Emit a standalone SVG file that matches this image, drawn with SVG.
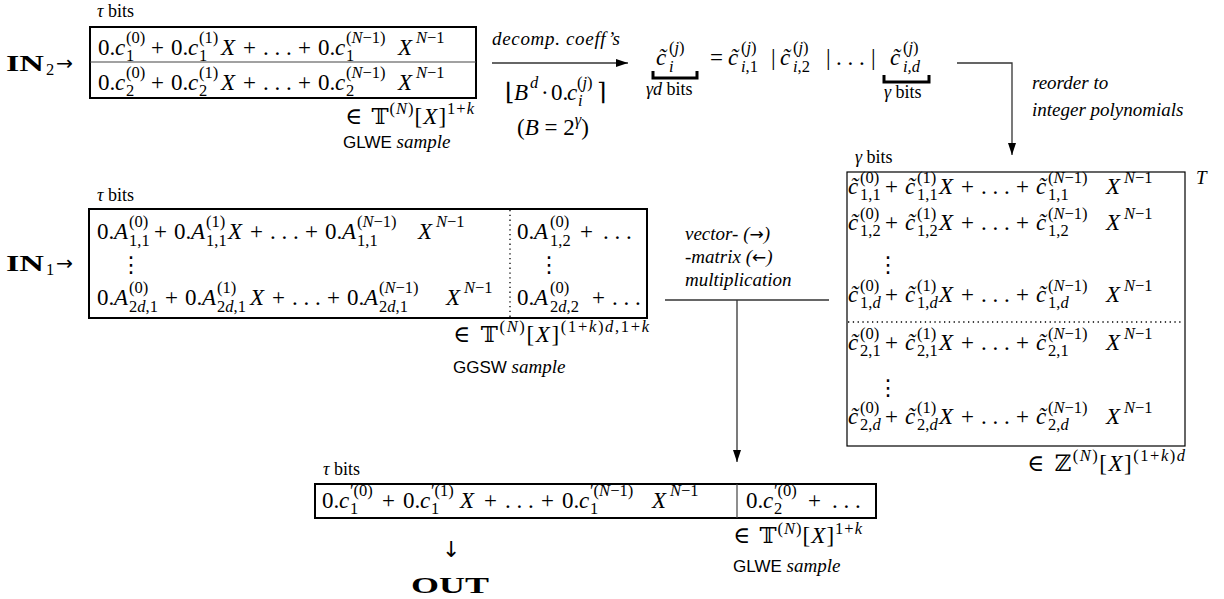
<svg xmlns="http://www.w3.org/2000/svg" width="1224" height="599" viewBox="0 0 1224 599">
<defs>
<style>
.t{font-family:"Liberation Serif","DejaVu Serif",serif;fill:#000}
.m{font-size:23px}
.s{font-size:16.5px}
.i{font-style:italic}
.l{font-size:19px;font-style:italic}
.sm{font-size:18px}
.sf{font-family:"Liberation Sans","DejaVu Sans",sans-serif;font-style:normal;font-size:17px}
.sym{font-family:"DejaVu Serif",serif}
.ar{font-family:"DejaVu Sans",sans-serif;font-style:normal}
.bf{font-weight:bold;font-size:24px}
.vd{font-family:"DejaVu Sans",sans-serif;font-size:22px;text-anchor:middle}
.box{fill:none;stroke:#000;stroke-width:2}
.thin{fill:none;stroke:#000;stroke-width:1.2}
.div{stroke:#444;stroke-width:1.2}
.dot{stroke:#000;stroke-width:1.3;stroke-dasharray:1.3 3.5}
.conn{fill:none;stroke:#333;stroke-width:1.3}
.brace{fill:none;stroke:#000;stroke-width:3}
</style>
<marker id="ah" viewBox="0 0 12 8" refX="12" refY="4" markerWidth="12" markerHeight="8" markerUnits="userSpaceOnUse" orient="auto"><path d="M0,0 L12,4 L0,8 z" fill="#000"/></marker>
</defs>

<g id="in2">
<text class="t bf" x="6" y="71" textLength="38" lengthAdjust="spacingAndGlyphs">IN</text>
<text class="t s" x="46" y="75">2</text>
<text class="t ar" x="56" y="70" font-size="20" textLength="17" lengthAdjust="spacingAndGlyphs">→</text>
<text class="t sm" x="97" y="17"><tspan class="i">τ</tspan> bits</text>
<rect class="box" x="90" y="27" width="386" height="71"/>
<line class="div" x1="90" y1="62" x2="476" y2="62"/>
<text class="t m"><tspan x="98" y="55">0.</tspan><tspan class="i" x="115" y="55">c</tspan><tspan class="s" x="126" y="43">(0)</tspan><tspan class="s" x="126" y="61">1</tspan><tspan x="151" y="55">+</tspan><tspan x="171" y="55">0.</tspan><tspan class="i" x="188" y="55">c</tspan><tspan class="s" x="199" y="43">(1)</tspan><tspan class="s" x="199" y="61">1</tspan><tspan class="i" x="221" y="55">X</tspan><tspan x="243" y="55">+</tspan><tspan x="263" y="55">. . .</tspan><tspan x="298" y="55">+</tspan><tspan x="318" y="55">0.</tspan><tspan class="i" x="335" y="55">c</tspan><tspan class="s" x="346" y="43">(<tspan class="i">N</tspan>−1)</tspan><tspan class="s" x="346" y="61">1</tspan><tspan class="i" x="398" y="55">X</tspan><tspan class="s" x="416" y="43"><tspan class="i">N</tspan>−1</tspan></text>
<text class="t m"><tspan x="98" y="90">0.</tspan><tspan class="i" x="115" y="90">c</tspan><tspan class="s" x="126" y="78">(0)</tspan><tspan class="s" x="126" y="96">2</tspan><tspan x="151" y="90">+</tspan><tspan x="171" y="90">0.</tspan><tspan class="i" x="188" y="90">c</tspan><tspan class="s" x="199" y="78">(1)</tspan><tspan class="s" x="199" y="96">2</tspan><tspan class="i" x="221" y="90">X</tspan><tspan x="243" y="90">+</tspan><tspan x="263" y="90">. . .</tspan><tspan x="298" y="90">+</tspan><tspan x="318" y="90">0.</tspan><tspan class="i" x="335" y="90">c</tspan><tspan class="s" x="346" y="78">(<tspan class="i">N</tspan>−1)</tspan><tspan class="s" x="346" y="96">2</tspan><tspan class="i" x="398" y="90">X</tspan><tspan class="s" x="416" y="78"><tspan class="i">N</tspan>−1</tspan></text>
<text class="t m" x="345" y="124" textLength="129" lengthAdjust="spacing"><tspan class="sym">∈ 𝕋</tspan><tspan class="s" dy="-10">(<tspan class="i">N</tspan>)</tspan><tspan dy="10">[<tspan class="i">X</tspan>]</tspan><tspan class="s" dy="-10">1+<tspan class="i">k</tspan></tspan></text>
<text class="t" x="343" y="148"><tspan class="sf">GLWE</tspan><tspan class="l"> sample</tspan></text>
</g>

<g id="decomp">
<text class="t l" x="492" y="45" textLength="128">decomp. coeff’s</text>
<text class="t m"><tspan class="sym" x="505" y="100" font-size="24">⌊</tspan><tspan class="i" x="514" y="100">B</tspan><tspan class="s i" x="530" y="88">d</tspan><tspan x="541" y="100">·</tspan><tspan x="551" y="100">0.</tspan><tspan class="i" x="567" y="100">c</tspan><tspan class="s" x="577" y="88">(<tspan class="i">j</tspan>)</tspan><tspan class="s i" x="578" y="106">i</tspan><tspan class="sym" x="597" y="100" font-size="24">⌉</tspan></text>
<text class="t m" x="517" y="135">(<tspan class="i">B</tspan> = 2<tspan class="s i" dy="-10">γ</tspan><tspan dy="10">)</tspan></text>
</g>

<g id="ctilde">
<text class="t m"><tspan class="i" x="656" y="65">c̃</tspan><tspan class="s" x="669" y="53">(<tspan class="i">j</tspan>)</tspan><tspan class="s i" x="669" y="72">i</tspan><tspan x="710" y="65">=</tspan><tspan class="i" x="728" y="65">c̃</tspan><tspan class="s" x="741" y="53">(<tspan class="i">j</tspan>)</tspan><tspan class="s" x="741" y="72"><tspan class="i">i</tspan>,1</tspan><tspan x="771" y="65">|</tspan><tspan class="i" x="780" y="65">c̃</tspan><tspan class="s" x="793" y="53">(<tspan class="i">j</tspan>)</tspan><tspan class="s" x="793" y="72"><tspan class="i">i</tspan>,2</tspan><tspan x="826" y="65">|</tspan><tspan x="836" y="65">. . .</tspan><tspan x="871" y="65">|</tspan><tspan class="i" x="890" y="65">c̃</tspan><tspan class="s" x="903" y="53">(<tspan class="i">j</tspan>)</tspan><tspan class="s i" x="903" y="72">i,d</tspan></text>
<path class="brace" d="M653,71 V78 H697 V71"/>
<text class="t sm" x="646" y="95"><tspan class="i">γd</tspan> bits</text>
<path class="brace" d="M884,75 V82 H929 V75"/>
<text class="t sm" x="884" y="98"><tspan class="i">γ</tspan> bits</text>
<text class="t l" x="1032" y="89">reorder to</text>
<text class="t l" x="1032" y="116">integer polynomials</text>
</g>

<g id="in1">
<text class="t bf" x="6" y="271" textLength="38" lengthAdjust="spacingAndGlyphs">IN</text>
<text class="t s" x="46" y="275">1</text>
<text class="t ar" x="56" y="270" font-size="20" textLength="17" lengthAdjust="spacingAndGlyphs">→</text>
<text class="t sm" x="97" y="201"><tspan class="i">τ</tspan> bits</text>
<rect class="box" x="89" y="209" width="558" height="109"/>
<line class="dot" x1="510" y1="210" x2="510" y2="317"/>
<text class="t m"><tspan x="97" y="239">0.</tspan><tspan class="i" x="114" y="239">A</tspan><tspan class="s" x="129" y="227">(0)</tspan><tspan class="s" x="129" y="246">1,1</tspan><tspan x="154" y="239">+</tspan><tspan x="174" y="239">0.</tspan><tspan class="i" x="191" y="239">A</tspan><tspan class="s" x="206" y="227">(1)</tspan><tspan class="s" x="206" y="246">1,1</tspan><tspan class="i" x="228" y="239">X</tspan><tspan x="250" y="239">+</tspan><tspan x="270" y="239">. . .</tspan><tspan x="305" y="239">+</tspan><tspan x="325" y="239">0.</tspan><tspan class="i" x="342" y="239">A</tspan><tspan class="s" x="357" y="227">(<tspan class="i">N</tspan>−1)</tspan><tspan class="s" x="357" y="246">1,1</tspan><tspan class="i" x="418" y="239">X</tspan><tspan class="s" x="436" y="227"><tspan class="i">N</tspan>−1</tspan><tspan x="517" y="239">0.</tspan><tspan class="i" x="534" y="239">A</tspan><tspan class="s" x="550" y="227">(0)</tspan><tspan class="s" x="550" y="246">1,2</tspan><tspan x="580" y="239">+</tspan><tspan x="603" y="239">. . .</tspan></text>
<text class="t vd" x="131" y="272">⋮</text>
<text class="t vd" x="549" y="272">⋮</text>
<text class="t m"><tspan x="97" y="305">0.</tspan><tspan class="i" x="114" y="305">A</tspan><tspan class="s" x="129" y="293">(0)</tspan><tspan class="s" x="129" y="312">2<tspan class="i">d</tspan>,1</tspan><tspan x="165" y="305">+</tspan><tspan x="185" y="305">0.</tspan><tspan class="i" x="202" y="305">A</tspan><tspan class="s" x="217" y="293">(1)</tspan><tspan class="s" x="217" y="312">2<tspan class="i">d</tspan>,1</tspan><tspan class="i" x="250" y="305">X</tspan><tspan x="272" y="305">+</tspan><tspan x="292" y="305">. . .</tspan><tspan x="327" y="305">+</tspan><tspan x="347" y="305">0.</tspan><tspan class="i" x="364" y="305">A</tspan><tspan class="s" x="379" y="293">(<tspan class="i">N</tspan>−1)</tspan><tspan class="s" x="379" y="312">2<tspan class="i">d</tspan>,1</tspan><tspan class="i" x="446" y="305">X</tspan><tspan class="s" x="464" y="293"><tspan class="i">N</tspan>−1</tspan><tspan x="517" y="305">0.</tspan><tspan class="i" x="534" y="305">A</tspan><tspan class="s" x="550" y="293">(0)</tspan><tspan class="s" x="550" y="312">2<tspan class="i">d</tspan>,2</tspan><tspan x="592" y="305">+</tspan><tspan x="612" y="305">. . .</tspan></text>
<text class="t m" x="453" y="342" textLength="196" lengthAdjust="spacing"><tspan class="sym">∈ 𝕋</tspan><tspan class="s" dy="-10">(<tspan class="i">N</tspan>)</tspan><tspan dy="10">[<tspan class="i">X</tspan>]</tspan><tspan class="s" dy="-10">(1+<tspan class="i">k</tspan>)<tspan class="i">d</tspan>,1+<tspan class="i">k</tspan></tspan></text>
<text class="t" x="453" y="373"><tspan class="sf">GGSW</tspan><tspan class="l"> sample</tspan></text>
</g>

<g id="mult">
<text class="t l" x="685" y="240">vector- (<tspan class="ar" font-size="17">→</tspan>)</text>
<text class="t l" x="685" y="263">-matrix (<tspan class="ar" font-size="17">←</tspan>)</text>
<text class="t l" x="685" y="286">multiplication</text>
</g>

<g id="rbox">
<text class="t sm" x="855" y="163"><tspan class="i">γ</tspan> bits</text>
<rect class="thin" x="847" y="172" width="338" height="274"/>
<line class="dot" x1="848" y1="322" x2="1184" y2="322"/>
<text class="t l" x="1196" y="184">T</text>
<text class="t m"><tspan class="i" x="848" y="194">c̃</tspan><tspan class="s" x="860" y="183">(0)</tspan><tspan class="s" x="860" y="200">1,1</tspan><tspan x="885" y="194">+</tspan><tspan class="i" x="905" y="194">c̃</tspan><tspan class="s" x="917" y="183">(1)</tspan><tspan class="s" x="917" y="200">1,1</tspan><tspan class="i" x="939" y="194">X</tspan><tspan x="961" y="194">+</tspan><tspan x="981" y="194">. . .</tspan><tspan x="1016" y="194">+</tspan><tspan class="i" x="1036" y="194">c̃</tspan><tspan class="s" x="1048" y="183">(<tspan class="i">N</tspan>−1)</tspan><tspan class="s" x="1048" y="200">1,1</tspan><tspan class="i" x="1106" y="194">X</tspan><tspan class="s" x="1124" y="183"><tspan class="i">N</tspan>−1</tspan></text>
<text class="t m"><tspan class="i" x="848" y="230">c̃</tspan><tspan class="s" x="860" y="219">(0)</tspan><tspan class="s" x="860" y="236">1,2</tspan><tspan x="885" y="230">+</tspan><tspan class="i" x="905" y="230">c̃</tspan><tspan class="s" x="917" y="219">(1)</tspan><tspan class="s" x="917" y="236">1,2</tspan><tspan class="i" x="939" y="230">X</tspan><tspan x="961" y="230">+</tspan><tspan x="981" y="230">. . .</tspan><tspan x="1016" y="230">+</tspan><tspan class="i" x="1036" y="230">c̃</tspan><tspan class="s" x="1048" y="219">(<tspan class="i">N</tspan>−1)</tspan><tspan class="s" x="1048" y="236">1,2</tspan><tspan class="i" x="1106" y="230">X</tspan><tspan class="s" x="1124" y="219"><tspan class="i">N</tspan>−1</tspan></text>
<text class="t vd" x="888" y="272">⋮</text>
<text class="t m"><tspan class="i" x="848" y="302">c̃</tspan><tspan class="s" x="860" y="291">(0)</tspan><tspan class="s" x="860" y="308">1,<tspan class="i">d</tspan></tspan><tspan x="885" y="302">+</tspan><tspan class="i" x="905" y="302">c̃</tspan><tspan class="s" x="917" y="291">(1)</tspan><tspan class="s" x="917" y="308">1,<tspan class="i">d</tspan></tspan><tspan class="i" x="939" y="302">X</tspan><tspan x="961" y="302">+</tspan><tspan x="981" y="302">. . .</tspan><tspan x="1016" y="302">+</tspan><tspan class="i" x="1036" y="302">c̃</tspan><tspan class="s" x="1048" y="291">(<tspan class="i">N</tspan>−1)</tspan><tspan class="s" x="1048" y="308">1,<tspan class="i">d</tspan></tspan><tspan class="i" x="1106" y="302">X</tspan><tspan class="s" x="1124" y="291"><tspan class="i">N</tspan>−1</tspan></text>
<text class="t m"><tspan class="i" x="848" y="350">c̃</tspan><tspan class="s" x="860" y="339">(0)</tspan><tspan class="s" x="860" y="356">2,1</tspan><tspan x="885" y="350">+</tspan><tspan class="i" x="905" y="350">c̃</tspan><tspan class="s" x="917" y="339">(1)</tspan><tspan class="s" x="917" y="356">2,1</tspan><tspan class="i" x="939" y="350">X</tspan><tspan x="961" y="350">+</tspan><tspan x="981" y="350">. . .</tspan><tspan x="1016" y="350">+</tspan><tspan class="i" x="1036" y="350">c̃</tspan><tspan class="s" x="1048" y="339">(<tspan class="i">N</tspan>−1)</tspan><tspan class="s" x="1048" y="356">2,1</tspan><tspan class="i" x="1106" y="350">X</tspan><tspan class="s" x="1124" y="339"><tspan class="i">N</tspan>−1</tspan></text>
<text class="t vd" x="888" y="395">⋮</text>
<text class="t m"><tspan class="i" x="848" y="424">c̃</tspan><tspan class="s" x="860" y="413">(0)</tspan><tspan class="s" x="860" y="430">2,<tspan class="i">d</tspan></tspan><tspan x="885" y="424">+</tspan><tspan class="i" x="905" y="424">c̃</tspan><tspan class="s" x="917" y="413">(1)</tspan><tspan class="s" x="917" y="430">2,<tspan class="i">d</tspan></tspan><tspan class="i" x="939" y="424">X</tspan><tspan x="961" y="424">+</tspan><tspan x="981" y="424">. . .</tspan><tspan x="1016" y="424">+</tspan><tspan class="i" x="1036" y="424">c̃</tspan><tspan class="s" x="1048" y="413">(<tspan class="i">N</tspan>−1)</tspan><tspan class="s" x="1048" y="430">2,<tspan class="i">d</tspan></tspan><tspan class="i" x="1106" y="424">X</tspan><tspan class="s" x="1124" y="413"><tspan class="i">N</tspan>−1</tspan></text>
<text class="t m" x="1027" y="471" textLength="158" lengthAdjust="spacing"><tspan class="sym">∈ ℤ</tspan><tspan class="s" dy="-10">(<tspan class="i">N</tspan>)</tspan><tspan dy="10">[<tspan class="i">X</tspan>]</tspan><tspan class="s" dy="-10">(1+<tspan class="i">k</tspan>)<tspan class="i">d</tspan></tspan></text>
</g>

<g id="out">
<text class="t sm" x="323" y="475"><tspan class="i">τ</tspan> bits</text>
<rect class="box" x="315" y="484" width="561" height="34"/>
<line class="div" x1="737" y1="484" x2="737" y2="518"/>
<text class="t m"><tspan x="322" y="508">0.</tspan><tspan class="i" x="339" y="508">c</tspan><tspan class="s" x="350" y="496">′(0)</tspan><tspan class="s" x="350" y="514">1</tspan><tspan x="382" y="508">+</tspan><tspan x="403" y="508">0.</tspan><tspan class="i" x="420" y="508">c</tspan><tspan class="s" x="431" y="496">′(1)</tspan><tspan class="s" x="431" y="514">1</tspan><tspan class="i" x="460" y="508">X</tspan><tspan x="484" y="508">+</tspan><tspan x="505" y="508">. . .</tspan><tspan x="541" y="508">+</tspan><tspan x="562" y="508">0.</tspan><tspan class="i" x="579" y="508">c</tspan><tspan class="s" x="590" y="496">′(<tspan class="i">N</tspan>−1)</tspan><tspan class="s" x="590" y="514">1</tspan><tspan class="i" x="652" y="508">X</tspan><tspan class="s" x="670" y="496"><tspan class="i">N</tspan>−1</tspan><tspan x="746" y="508">0.</tspan><tspan class="i" x="763" y="508">c</tspan><tspan class="s" x="774" y="496">′(0)</tspan><tspan class="s" x="774" y="514">2</tspan><tspan x="808" y="508">+</tspan><tspan x="832" y="508">. . .</tspan></text>
<text class="t m" x="733" y="543" textLength="129" lengthAdjust="spacing"><tspan class="sym">∈ 𝕋</tspan><tspan class="s" dy="-9">(<tspan class="i">N</tspan>)</tspan><tspan dy="9">[<tspan class="i">X</tspan>]</tspan><tspan class="s" dy="-9">1+<tspan class="i">k</tspan></tspan></text>
<text class="t" x="733" y="572"><tspan class="sf">GLWE</tspan><tspan class="l"> sample</tspan></text>
<text class="t ar" x="442" y="557" font-size="22">↓</text>
<text class="t bf" x="411" y="593" textLength="78" lengthAdjust="spacingAndGlyphs">OUT</text>
</g>

<g id="connectors">
<line class="conn" x1="492" y1="63" x2="628" y2="63" marker-end="url(#ah)"/>
<path class="conn" d="M957,63 H1012 V155" marker-end="url(#ah)"/>
<line class="conn" x1="665" y1="300" x2="829" y2="300"/>
<line class="conn" x1="737" y1="300" x2="737" y2="462" marker-end="url(#ah)"/>
</g>
</svg>
